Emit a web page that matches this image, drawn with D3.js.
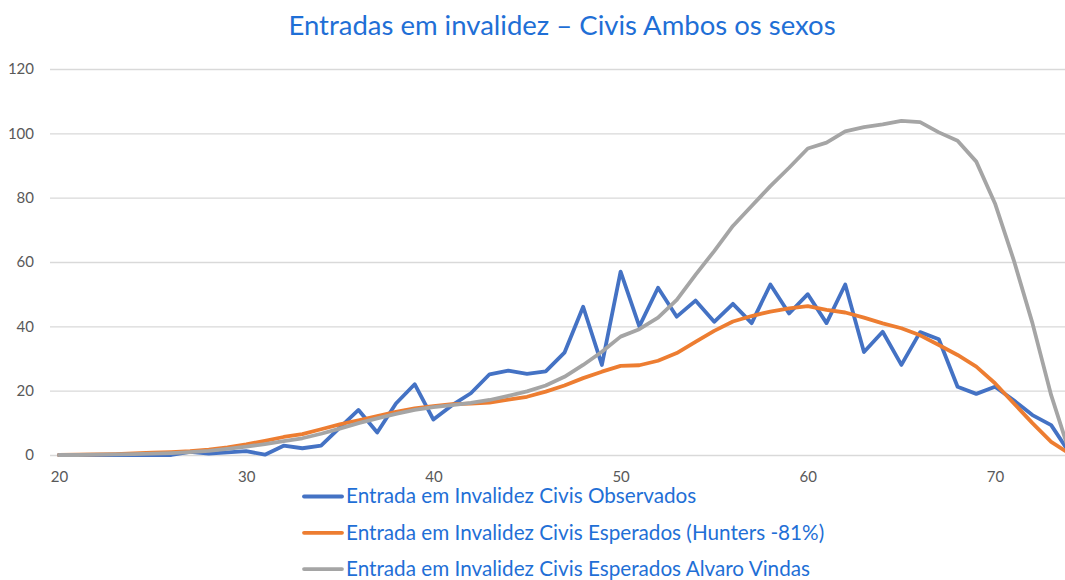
<!DOCTYPE html>
<html>
<head>
<meta charset="utf-8">
<script src="https://cdn.jsdelivr.net/npm/d3@7/dist/d3.min.js"></script>
<style>
  html, body { margin: 0; padding: 0; background: #fff; }
  svg { display: block; }
</style>
</head>
<body>
<svg id="chart" width="1065" height="580"></svg>
<script>
const title = "Entradas em invalidez – Civis Ambos os sexos";
const ages = d3.range(20, 75);
const yTicks = [0, 20, 40, 60, 80, 100, 120];
const xTicks = [20, 30, 40, 50, 60, 70];
const seriesNames = [
  "Entrada em Invalidez Civis Observados",
  "Entrada em Invalidez Civis Esperados (Hunters -81%)",
  "Entrada em Invalidez Civis Esperados Alvaro Vindas"
];
const seriesColors = ["#4472C4", "#ED7D31", "#A5A5A5"];

// ages 20..74
const observados = [
  0, 0, 0, 0, 0, 0, 0, 1, 0.4, 0.8,
  1.2, 0.1, 2.9, 2.1, 2.9, 8.5, 14, 7, 16, 22,
  11, 15.5, 19.2, 25.1, 26.2, 25.2, 26, 31.8, 46.1, 28,
  57, 40, 52, 43, 48, 41.4, 47, 41, 53, 44,
  50, 41, 53, 32, 38.3, 28, 38.2, 36, 21.2, 19,
  21.2, 17, 12.4, 9.3, 0.5
];
const hunters = [
  0, 0.1, 0.2, 0.3, 0.5, 0.7, 0.9, 1.2, 1.7, 2.4,
  3.3, 4.4, 5.6, 6.5, 8.0, 9.5, 10.8, 12.1, 13.4, 14.5,
  15.2, 15.8, 16.0, 16.3, 17.2, 18.1, 19.7, 21.6, 23.9, 25.9,
  27.7, 27.9, 29.3, 31.7, 35.2, 38.6, 41.5, 43.2, 44.6, 45.6,
  46.3, 45.1, 44.3, 42.7, 40.9, 39.4, 37.2, 34.2, 31.1, 27.5,
  22.3, 16.1, 9.9, 4.1, 0.3
];
const alvaro = [
  0, 0, 0.1, 0.2, 0.3, 0.4, 0.6, 0.9, 1.3, 1.9,
  2.6, 3.4, 4.3, 5.2, 6.6, 8.2, 9.9, 11.4, 12.8, 14.0,
  14.9, 15.5, 16.2, 17.1, 18.4, 19.8, 21.6, 24.3, 28, 32.1,
  36.8, 39.1, 42.7, 48.2, 56, 63.4, 71.2, 77.4, 83.6, 89.3,
  95.3, 97.1, 100.6, 101.9, 102.8, 103.9, 103.5, 100.3, 97.7, 91.2,
  78.2, 60.6, 41, 18.6, 0.5
];
const seriesData = [observados, hunters, alvaro];

const svg = d3.select("#chart");
const textColor = "#1F6FD6";
const font = "Lato, 'Open Sans', sans-serif";

const x = d3.scaleLinear().domain([20, 70]).range([59, 995]);
const y = d3.scaleLinear().domain([0, 120]).range([455, 69]);

// title
svg.append("text")
  .attr("x", 562).attr("y", 35)
  .attr("text-anchor", "middle")
  .attr("font-family", font)
  .attr("font-size", 27.5)
  .attr("fill", textColor)
  .text(title);

// grid + y labels
const yAxis = d3.axisLeft(y).tickValues(yTicks).tickSize(-1100).tickPadding(16);
const gy = svg.append("g").attr("transform", "translate(50,0)").call(yAxis);
gy.select(".domain").remove();
gy.selectAll(".tick line").attr("stroke", "#D9D9D9").attr("stroke-width", 1.3);
gy.selectAll(".tick text")
  .attr("font-family", font).attr("font-size", 15).attr("fill", "#595959");

// x labels
const xAxis = d3.axisBottom(x).tickValues(xTicks).tickSize(0).tickPadding(16).tickFormat(d3.format("d"));
const gx = svg.append("g").attr("transform", "translate(0,455)").call(xAxis);
gx.select(".domain").remove();
gx.selectAll(".tick text")
  .attr("font-family", font).attr("font-size", 15).attr("fill", "#595959");

// lines
const line = d3.line().x((d, i) => x(ages[i])).y(d => y(d));
seriesData.forEach((s, k) => {
  svg.append("path")
    .datum(s)
    .attr("fill", "none")
    .attr("stroke", seriesColors[k])
    .attr("stroke-width", 3.8)
    .attr("stroke-linejoin", "round")
    .attr("stroke-linecap", "round")
    .attr("d", line);
});

// legend
const lg = svg.append("g");
seriesNames.forEach((name, k) => {
  const yy = 496.5 + k * 36.3;
  lg.append("line")
    .attr("x1", 304).attr("x2", 342)
    .attr("y1", yy).attr("y2", yy)
    .attr("stroke", seriesColors[k])
    .attr("stroke-width", 3.8)
    .attr("stroke-linecap", "round");
  lg.append("text")
    .attr("x", 346).attr("y", yy + 6.8)
    .attr("font-family", font)
    .attr("font-size", 20.7)
    .attr("fill", textColor)
    .text(name);
});
</script>
</body>
</html>
